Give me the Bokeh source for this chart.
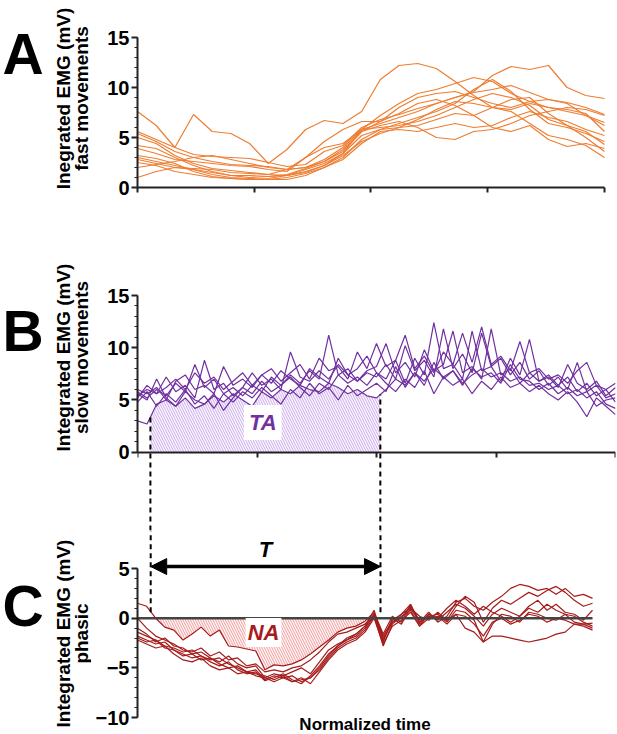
import numpy as np
from bokeh.plotting import figure
from bokeh.models import Range1d, FixedTicker, Label, Arrow, NormalHead
from bokeh.layouts import column, row
from bokeh.embed import file_html
from bokeh.resources import INLINE

FONT = "Liberation Sans"
ORANGE = "#ee7d31"
PURPLE = "#7030a0"
DARKRED = "#a61c1c"
AXIS = "#222222"

# ---------------- data ----------------
x_fast = list(range(0, 101, 4))
fast_1 = [7.6, 6.2, 4.0, 3.3, 3.1, 3.0, 2.9, 2.5, 2.1, 2.3, 3.6, 4.2, 6.0, 6.8, 7.3, 7.9, 8.4, 9.0, 9.5, 9.8, 10.2, 9.5, 8.8, 8.5, 8.0, 7.3]
fast_2 = [5.6, 4.8, 4.0, 7.3, 5.6, 5.4, 4.4, 2.4, 3.8, 5.8, 6.7, 6.4, 7.6, 10.8, 12.2, 12.4, 11.9, 10.6, 9.2, 8.0, 7.8, 8.4, 8.0, 7.6, 7.2, 6.5]
fast_3 = [5.4, 4.6, 3.6, 3.0, 2.6, 2.3, 2.2, 2.1, 1.8, 2.0, 2.8, 4.0, 5.8, 6.4, 7.0, 7.6, 8.4, 9.0, 9.6, 11.2, 12.1, 11.8, 12.2, 10.0, 9.2, 8.9]
fast_4 = [5.0, 4.4, 3.2, 2.4, 1.9, 1.7, 1.5, 1.3, 1.2, 1.5, 2.2, 3.4, 5.8, 7.2, 8.4, 9.4, 9.8, 10.4, 11.0, 10.6, 9.4, 8.6, 8.0, 7.8, 7.4, 5.6]
fast_5 = [4.2, 3.9, 3.0, 2.2, 1.6, 1.2, 1.0, 1.1, 1.3, 1.9, 2.6, 3.8, 5.6, 6.2, 6.6, 6.0, 5.0, 4.8, 5.6, 5.8, 6.4, 7.2, 7.6, 8.0, 7.8, 7.2]
fast_6 = [3.9, 3.4, 2.8, 2.6, 2.4, 2.2, 2.1, 1.8, 1.6, 3.0, 4.0, 4.4, 5.8, 6.0, 6.2, 6.6, 7.2, 8.0, 8.8, 9.4, 9.0, 8.2, 6.8, 6.2, 5.6, 4.3]
fast_7 = [3.2, 2.9, 2.4, 1.6, 1.1, 0.9, 0.8, 0.9, 1.2, 1.8, 2.4, 3.4, 5.2, 5.8, 6.4, 7.0, 7.6, 8.4, 9.8, 10.8, 9.6, 7.8, 6.4, 6.0, 5.4, 4.6]
fast_8 = [3.0, 2.6, 2.2, 1.8, 1.3, 1.0, 0.9, 0.8, 0.8, 1.2, 2.0, 3.0, 4.8, 5.8, 6.0, 6.2, 6.8, 7.4, 7.2, 6.0, 5.6, 6.2, 4.8, 4.1, 4.4, 3.9]
fast_9 = [2.8, 2.4, 2.0, 1.9, 1.8, 1.5, 1.4, 1.3, 1.8, 3.0, 4.6, 5.8, 6.6, 6.6, 7.4, 8.4, 8.8, 8.2, 7.2, 8.0, 8.8, 9.0, 7.4, 6.2, 5.0, 3.6]
fast_10 = [2.5, 2.2, 1.6, 1.3, 1.0, 0.9, 0.8, 0.8, 1.0, 1.4, 2.0, 2.8, 4.4, 5.6, 5.8, 5.6, 6.0, 6.4, 6.0, 6.2, 7.0, 7.6, 7.0, 6.6, 5.8, 5.2]
fast_11 = [2.0, 2.3, 2.6, 3.0, 3.2, 2.8, 2.4, 2.0, 1.8, 2.0, 2.6, 3.6, 5.6, 6.6, 8.0, 9.0, 9.4, 9.6, 9.0, 8.4, 8.0, 8.6, 8.8, 8.4, 7.2, 6.2]
fast_12 = [1.0, 1.6, 2.0, 1.8, 1.5, 1.2, 1.2, 1.1, 1.2, 1.6, 2.2, 3.2, 4.6, 5.4, 6.0, 6.8, 7.8, 8.6, 8.4, 8.0, 7.6, 6.4, 5.2, 4.8, 4.2, 3.0]
fast_traces = [fast_1, fast_2, fast_3, fast_4, fast_5, fast_6, fast_7, fast_8, fast_9, fast_10, fast_11, fast_12]

x_slow = list(range(0, 101, 2))
slow_1 = [3.0, 2.7, 4.6, 5.0, 4.4, 5.2, 4.2, 4.6, 5.4, 4.8, 5.6, 5.0, 4.4, 5.8, 5.2, 6.0, 5.6, 6.4, 6.0, 5.8, 6.6, 6.2, 5.6, 6.0, 5.4, 5.2,
          6.0, 7.0, 6.4, 7.6, 6.8, 8.0, 7.2, 7.8, 6.6, 7.4, 8.0, 7.2, 7.6, 6.8, 7.2, 6.4, 6.6, 6.0, 6.4, 5.6, 6.0, 5.2, 5.8, 4.6, 4.2]
slow_2 = [5.8, 5.2, 6.0, 5.4, 6.6, 5.8, 8.4, 6.2, 7.0, 5.6, 6.2, 5.4, 6.4, 5.8, 7.2, 6.4, 7.4, 6.6, 7.8, 7.0, 11.2, 7.4, 8.0, 6.8, 7.6, 7.2,
          8.4, 7.0, 10.2, 7.8, 8.8, 7.2, 11.8, 8.0, 9.4, 7.6, 11.4, 8.2, 9.0, 7.4, 8.6, 7.0, 7.8, 6.4, 7.2, 6.0, 8.6, 5.8, 6.4, 5.2, 5.6]
slow_3 = [5.4, 6.0, 5.6, 7.2, 5.8, 6.4, 5.2, 8.8, 6.0, 6.6, 5.4, 6.2, 7.6, 6.4, 7.0, 6.0, 9.6, 7.2, 6.8, 7.8, 7.0, 8.4, 7.4, 8.0, 9.2, 7.6,
          7.0, 8.8, 6.6, 9.0, 7.4, 12.4, 8.0, 8.4, 7.0, 11.6, 7.8, 8.2, 6.8, 9.0, 7.4, 10.8, 6.8, 7.4, 6.4, 7.2, 5.8, 6.6, 5.4, 6.0, 4.8]
slow_4 = [6.0, 5.6, 6.2, 5.0, 6.8, 7.4, 6.0, 6.4, 5.6, 8.2, 6.4, 7.0, 6.2, 7.4, 6.6, 7.8, 7.0, 6.4, 8.0, 7.2, 6.6, 9.0, 7.4, 6.8, 7.8, 8.2,
          10.4, 7.6, 8.6, 7.2, 9.8, 7.8, 8.4, 11.6, 7.6, 8.2, 7.0, 11.8, 7.4, 8.0, 6.6, 7.6, 6.8, 7.2, 6.2, 8.4, 6.6, 6.0, 6.8, 5.4, 6.2]
slow_5 = [4.8, 5.8, 4.4, 5.6, 4.8, 6.0, 4.6, 5.4, 4.2, 5.6, 4.8, 5.8, 5.2, 6.2, 5.4, 4.6, 6.0, 5.2, 6.6, 5.6, 6.2, 5.0, 6.4, 5.4, 6.0, 6.6,
          5.8, 8.2, 6.2, 7.6, 6.4, 8.6, 7.0, 7.8, 6.4, 8.0, 7.2, 7.6, 6.6, 8.4, 7.0, 6.8, 6.0, 6.6, 5.6, 6.2, 5.4, 5.8, 4.4, 5.0, 5.2]
slow_6 = [5.2, 6.4, 5.6, 6.2, 7.0, 6.0, 7.6, 6.6, 7.2, 6.0, 6.8, 7.6, 6.4, 7.4, 8.0, 6.8, 7.6, 8.4, 7.0, 9.0, 7.8, 8.2, 7.0, 9.6, 8.0, 10.4,
          8.2, 8.8, 11.2, 8.0, 9.2, 7.6, 9.6, 8.4, 11.4, 8.6, 12.0, 8.4, 9.2, 7.8, 10.6, 7.6, 8.0, 7.0, 7.4, 6.6, 7.8, 8.6, 6.4, 6.0, 6.6]
slow_7 = [5.6, 5.0, 7.0, 5.2, 4.4, 5.8, 5.0, 4.6, 5.6, 4.0, 5.2, 6.2, 5.6, 6.8, 5.8, 6.4, 7.2, 6.2, 5.4, 6.6, 6.0, 7.4, 6.6, 7.2, 6.4, 7.6,
          6.6, 5.8, 7.0, 6.2, 7.8, 5.6, 7.2, 6.4, 7.0, 5.6, 6.8, 6.0, 7.2, 6.2, 6.6, 5.8, 6.4, 5.6, 5.0, 5.8, 4.8, 3.4, 5.2, 4.4, 3.6]
slow_traces = [slow_1, slow_2, slow_3, slow_4, slow_5, slow_6, slow_7]

x_phasic = list(range(0, 101, 2))
phasic_1 = [1.5, 1.2, 0.0, -0.9, -1.2, -2.2, -1.6, -0.9, -1.8, -1.2,
            -2.8, -2.9, -3.1, -3.3, -5.2, -4.7, -4.8, -4.6, -4.2, -3.6,
            -2.9, -2.2, -1.4, -1.0, -0.8, -0.3, 0.6, -1.6, 0.2, -0.4,
            1.4, -0.6, 0.4, 0.0, 1.0, 1.8, 1.2, 0.4, 1.2, 0.6,
            0.2, -0.4, 0.2, 1.0, 0.6, 1.4, 0.8, 0.4, 0.2, -0.4, -0.8]
phasic_2 = [0.0, -1.0, -1.8, -2.2, -2.6, -3.2, -3.4, -3.0, -3.8, -3.4,
            -4.2, -4.0, -4.8, -4.6, -5.4, -5.2, -5.4, -5.0, -4.8, -4.2,
            -3.4, -2.4, -1.6, -1.4, -1.0, -0.6, 0.4, -1.8, -0.2, 0.4,
            1.4, -0.4, 0.6, -0.4, 0.2, 1.6, 2.0, 1.2, 0.8, 1.6,
            2.2, 3.0, 3.4, 3.2, 2.8, 3.0, 2.4, 3.0, 2.2, 2.4, 2.0]
phasic_3 = [-1.0, -1.6, -2.4, -2.0, -2.8, -3.0, -3.6, -3.4, -4.0, -4.4,
            -3.8, -4.6, -5.0, -4.8, -6.0, -5.6, -5.8, -5.4, -5.0, -5.6,
            -4.4, -3.2, -2.6, -2.2, -1.6, -0.8, 0.8, -2.4, 0.0, -0.6,
            1.0, 0.2, -0.2, 0.6, -0.2, 1.2, 2.2, 1.6, -0.4, 1.0,
            1.8, 1.4, 2.0, 2.6, 2.2, 2.8, 3.2, 2.6, 1.8, 1.2, 1.5]
phasic_4 = [-1.4, -1.8, -2.2, -2.8, -3.0, -3.4, -3.2, -3.8, -4.2, -4.0,
            -4.6, -5.0, -5.4, -5.2, -6.2, -5.8, -6.0, -5.8, -6.4, -6.0,
            -5.2, -4.0, -3.0, -2.4, -2.0, -1.2, 0.2, -2.8, -0.6, 0.2,
            0.8, -0.8, 0.4, -0.2, 0.6, 1.4, 1.0, 0.2, -0.8, 0.4,
            1.0, 0.6, 0.2, 1.2, 1.8, 0.8, 1.4, 0.6, 0.4, -0.2, 0.8]
phasic_5 = [-1.8, -2.2, -2.6, -2.4, -3.2, -3.6, -4.0, -3.8, -4.4, -4.8,
            -4.4, -5.2, -5.6, -5.4, -6.3, -6.0, -5.6, -6.2, -6.6, -5.8,
            -4.8, -3.6, -2.8, -2.2, -1.8, -1.0, 0.4, -2.0, -0.4, 0.0,
            1.2, -0.2, 0.2, 0.4, -0.4, 0.8, 0.6, -0.2, -2.4, -0.6,
            0.4, 0.2, -0.4, 0.6, 0.4, 0.0, -0.2, 0.4, -0.4, -0.6, -0.5]
phasic_6 = [-2.2, -2.6, -3.0, -2.8, -3.6, -4.2, -4.4, -4.0, -4.8, -5.2,
            -5.0, -5.6, -5.4, -5.8, -6.0, -6.4, -6.0, -6.4, -6.0, -6.6,
            -5.4, -4.2, -3.2, -2.6, -2.2, -1.4, 0.0, -2.6, -0.8, -0.2,
            0.6, -0.8, 0.0, 0.2, -0.6, 0.4, 0.2, -0.6, -1.8, -0.4,
            0.0, -0.6, -0.2, 0.4, 0.2, -0.4, 0.0, -0.2, -0.6, -0.8, -1.2]
phasic_7 = [-2.0, -2.4, -2.2, -3.0, -3.2, -3.8, -3.6, -4.2, -4.0, -4.6,
            -5.0, -4.8, -5.4, -5.6, -5.8, -6.2, -5.8, -6.4, -6.2, -6.0,
            -5.0, -3.8, -2.8, -2.0, -1.6, -0.8, 0.2, -2.2, -0.4, 0.4,
            1.0, -0.4, 0.2, 0.0, -0.2, 0.4, -1.0, -1.4, -2.4, -1.8,
            -1.8, -2.0, -2.2, -2.4, -2.2, -2.0, -1.6, -1.4, -0.6, -0.6, -1.0]
phasic_traces = [phasic_1, phasic_2, phasic_3, phasic_4, phasic_5, phasic_6, phasic_7]

x_ticks = [0, 25, 50, 75, 100]
y_ticks_ab = [0, 5, 10, 15]
y_ticks_c = [-10, -5, 0, 5]
window_B = [2.7, 50.8]      # T window in panel B time units
window_C = [2.9, 53.4]      # T window in panel C time units
na_end = 51.0
panel_letters = ["A", "B", "C"]
ylabel_line1 = ["Inegrated EMG (mV)", "Integrated EMG (mV)", "Integrated EMG (mV)"]
ylabel_line2 = ["fast movements", "slow movements", "phasic"]
x_label = "Normalized time"


def style(p):
    p.grid.visible = False
    p.outline_line_color = None
    p.background_fill_color = "white"
    p.border_fill_color = "white"


def style_y(p, ticks, minor, bounds):
    ax = p.yaxis[0]
    ax.ticker = FixedTicker(ticks=ticks, minor_ticks=minor)
    ax.bounds = bounds
    ax.axis_line_width = 2
    ax.axis_line_color = AXIS
    ax.major_tick_line_width = 2
    ax.major_tick_line_color = AXIS
    ax.minor_tick_line_color = AXIS
    ax.minor_tick_line_width = 1
    ax.major_tick_out = 6
    ax.major_tick_in = 0
    ax.minor_tick_out = 3
    ax.minor_tick_in = 0
    ax.major_label_text_font = FONT
    ax.major_label_text_font_style = "bold"
    ax.major_label_text_font_size = "20px"
    ax.major_label_text_color = "black"
    ax.major_label_standoff = 2


def style_x(p, bounds):
    ax = p.xaxis[0]
    ax.ticker = FixedTicker(ticks=x_ticks, minor_ticks=[])
    ax.bounds = bounds
    ax.axis_line_width = 2
    ax.axis_line_color = AXIS
    ax.major_tick_line_width = 2
    ax.major_tick_line_color = AXIS
    ax.major_tick_out = 5
    ax.major_tick_in = 0
    ax.minor_tick_out = 0
    ax.major_label_overrides = {t: "" for t in x_ticks}
    ax.major_label_text_font_size = "8px"
    ax.major_label_standoff = 0


common = dict(output_backend="svg", toolbar_location=None)
LEFT_W = 91

# ---------------- left strip: panel letters and y-axis titles ----------------
pL = figure(width=LEFT_W, height=734, x_range=Range1d(0, LEFT_W), y_range=Range1d(734, 0),
            x_axis_location=None, y_axis_location=None,
            min_border_left=0, min_border_right=0, min_border_top=0, min_border_bottom=0, **common)
style(pL)
for t, yb in zip(panel_letters, [53, 330, 605]):
    pL.add_layout(Label(x=2, y=yb, text=t, text_font=FONT, text_font_style="bold",
                        text_font_size="57px", text_color="black",
                        text_align="left", text_baseline="alphabetic"))
for l1, l2, yc in zip(ylabel_line1, ylabel_line2, [98, 357, 633]):
    for txt, xc in ((l1, 63), (l2, 80.5)):
        pL.add_layout(Label(x=xc, y=yc, text=txt, angle=np.pi / 2, text_font=FONT,
                            text_font_style="bold", text_font_size="19px", text_color="black",
                            text_align="center", text_baseline="middle"))

# ---------------- panel A ----------------
pA = figure(width=617 - LEFT_W, height=245, x_range=Range1d(0, 102.36), y_range=Range1d(0, 15),
            min_border_left=137 - LEFT_W, min_border_right=2, min_border_top=37, min_border_bottom=58, **common)
style(pA)
style_y(pA, y_ticks_ab, list(range(0, 16)), (0, 15))
style_x(pA, (0, 100))
for ys in fast_traces:
    pA.line(x_fast, ys, line_color=ORANGE, line_width=1.2)

# ---------------- panel B (frame extends down to panel C) ----------------
pB = figure(width=617 - LEFT_W, height=285, x_range=Range1d(0, 100), y_range=Range1d(-7.49, 15),
            min_border_left=137 - LEFT_W, min_border_right=2, min_border_top=50, min_border_bottom=0, **common)
style(pB)
style_y(pB, y_ticks_ab, list(range(0, 16)), (0, 15))
style_x(pB, (0, 100))
pB.xaxis[0].fixed_location = 0
xs = np.array(x_slow, dtype=float)
low = np.array(slow_1, dtype=float)
inside = (xs > window_B[0]) & (xs < window_B[1])
fx = np.concatenate([[window_B[0]], xs[inside], [window_B[1]]])
fy = np.concatenate([[np.interp(window_B[0], xs, low)], low[inside], [np.interp(window_B[1], xs, low)]])
pB.varea(x=fx, y1=np.zeros_like(fx), y2=fy, fill_alpha=0,
         hatch_pattern="\\", hatch_color="#d4b8f0", hatch_weight=1.2, hatch_scale=5)
for ys in slow_traces:
    pB.line(x_slow, ys, line_color=PURPLE, line_width=1.2)
tops_B = [np.interp(window_B[0], xs, low), np.interp(window_B[1], xs, low)]
pB.segment(x0=window_B, y0=[-7.49, -7.49], x1=window_B, y1=tops_B, line_color="black",
           line_width=2, line_dash="5 4")
pB.add_layout(Label(x=26.2, y=2.84, text="TA", text_font=FONT, text_font_style="bold italic",
                    text_font_size="22px", text_color=PURPLE, text_align="center",
                    text_baseline="middle", background_fill_color="white", padding=5))

# ---------------- panel C ----------------
pC = figure(width=617 - LEFT_W, height=204, x_range=Range1d(0, 105.05), y_range=Range1d(-11.71, 8.83),
            x_axis_location=None,
            min_border_left=137 - LEFT_W, min_border_right=2, min_border_top=0, min_border_bottom=0, **common)
style(pC)
style_y(pC, y_ticks_c, list(range(-10, 6)), (-10, 5))

xc = np.array(x_phasic, dtype=float)
up = np.array(phasic_1, dtype=float)
inc = (xc > window_C[0]) & (xc < na_end)
nx = np.concatenate([[window_C[0]], xc[inc], [na_end]])
ny = np.minimum(np.concatenate([[np.interp(window_C[0], xc, up)], up[inc], [np.interp(na_end, xc, up)]]), 0)
pC.varea(x=nx, y1=np.zeros_like(nx), y2=ny, fill_alpha=0,
         hatch_pattern="\\", hatch_color="#f4abab", hatch_weight=1.2, hatch_scale=5)
for ys in phasic_traces:
    pC.line(x_phasic, ys, line_color=DARKRED, line_width=1.2)
pC.line([x_phasic[0], x_phasic[-1]], [0, 0], line_color="#444444", line_width=2.5)
pC.segment(x0=window_C, y0=[0.6, 0.6], x1=window_C, y1=[8.83, 8.83], line_color="black",
           line_width=2, line_dash="5 4")
pC.add_layout(Arrow(start=NormalHead(size=16, fill_color="black", line_color="black"),
                    end=NormalHead(size=16, fill_color="black", line_color="black"),
                    x_start=window_C[0], y_start=5.2, x_end=window_C[1], y_end=5.2,
                    line_width=3.5, line_color="black"))
pC.add_layout(Label(x=28.1, y=6.9, text="T", text_font=FONT, text_font_style="bold italic",
                    text_font_size="22px", text_color="black", text_align="center",
                    text_baseline="middle"))
pC.add_layout(Label(x=27.7, y=-1.45, text="NA", text_font=FONT, text_font_style="bold italic",
                    text_font_size="22px", text_color=DARKRED, text_align="center",
                    text_baseline="middle", background_fill_color="white", padding=2))
pC.add_layout(Label(x=x_phasic[-1] / 2, y=-10.75, text=x_label, text_font=FONT,
                    text_font_style="bold", text_font_size="17px", text_color="black",
                    text_align="center", text_baseline="middle"))

layout = row(pL, column(pA, pB, pC, spacing=0), spacing=0)
open("out.html", "w").write(file_html(layout, INLINE))
